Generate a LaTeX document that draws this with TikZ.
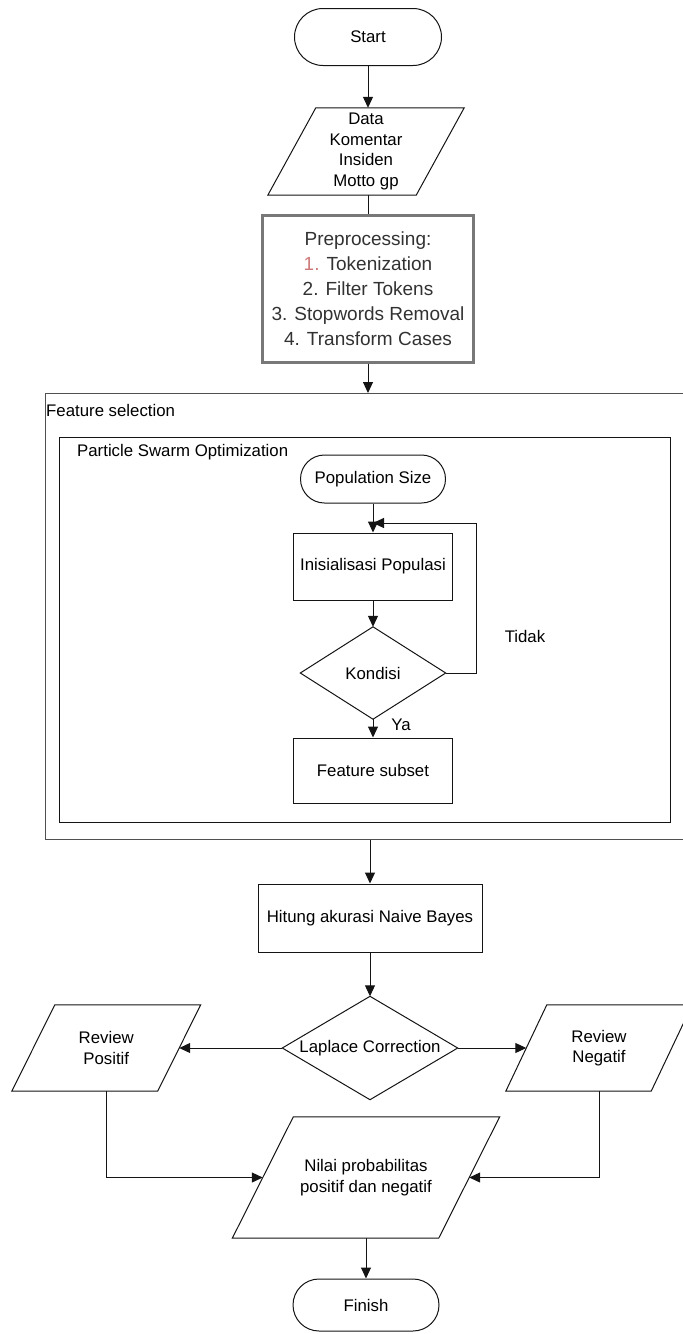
\documentclass[tikz,border=0pt]{standalone}
\usepackage{fontspec}
\setmainfont{Liberation Sans}
\usetikzlibrary{arrows.meta,shapes.misc}
\definecolor{ln}{RGB}{20,20,20}
\definecolor{framegray}{RGB}{80,80,80}
\definecolor{prepborder}{RGB}{120,120,120}
\definecolor{preptext}{RGB}{50,50,50}
\definecolor{pinkish}{RGB}{205,120,120}
\newcommand\paral[2]{\draw[link] ([xshift=#2]#1.north west) -- ([xshift=#2]#1.north east) -- ([xshift=-#2]#1.south east) -- ([xshift=-#2]#1.south west) -- cycle;}
\newcommand\diam[1]{\draw[link] (#1.north) -- (#1.east) -- (#1.south) -- (#1.west) -- cycle;}
\begin{document}
\begin{tikzpicture}[x=1pt,y=-1pt,
  base/.style={font=\fontsize{16.8}{20.5}\selectfont, text=black, inner sep=0pt, align=center},
  term/.style={base, rounded rectangle, draw=ln, line width=1pt},
  boxn/.style={base, rectangle, draw=ln, line width=1pt},
  hidden/.style={base, rectangle, draw=none},
  frame/.style={rectangle, draw=#1, line width=1.2pt, inner sep=0pt},
  link/.style={draw=ln, line width=1pt},
  arr/.style={link, -{Triangle[length=11pt,width=10pt]}},
  prep/.style={rectangle, draw=prepborder, line width=3pt, inner sep=0pt, align=center,
    font=\fontsize{19}{25}\selectfont, text=preptext},
]
\useasboundingbox (0,0) rectangle (683,1334);

% top part
\node[term, minimum width=147pt, minimum height=57pt] (start) at (368,37) {Start};
\node[hidden, minimum width=148pt, minimum height=87pt] (data) at (366,151.5) {Data\\Komentar\\Insiden\\Motto gp};
\paral{data}{24pt}
\node[prep, minimum width=211pt, minimum height=147pt] (prep) at (368,288.5)
  {Preprocessing:\\{\color{pinkish}1.} Tokenization\\2. Filter Tokens\\3. Stopwords Removal\\4. Transform Cases};

% frames
\node[frame=framegray, minimum width=648pt, minimum height=446pt, anchor=north west] (fs) at (45,393) {};
\node[base, anchor=west] (fslbl) at (46,410) {Feature selection};
\node[frame=ln, minimum width=611pt, minimum height=385pt, anchor=north west] (pso) at (59,437) {};
\node[base, anchor=west] (psolbl) at (77,452) {Particle Swarm Optimization};

% PSO content
\node[term, minimum width=145pt, minimum height=48pt] (pop) at (373,479) {Population Size};
\node[boxn, minimum width=159pt, minimum height=67pt] (init) at (373,566.5) {Inisialisasi Populasi};
\node[hidden, minimum width=145pt, minimum height=92pt] (kond) at (373,673) {Kondisi};
\diam{kond}
\node[boxn, minimum width=159pt, minimum height=65pt] (fsub) at (373,770.5) {Feature subset};
\coordinate (loopin) at (373,523);
\coordinate (loopr) at (476,523);
\node[base] (tidak) at (525,636) {Tidak};
\node[base] (ya) at (401,725) {Ya};

% lower part
\node[boxn, minimum width=224pt, minimum height=68pt] (hit) at (370,918) {Hitung akurasi Naive Bayes};
\node[hidden, minimum width=175pt, minimum height=103pt] (lap) at (370,1048) {Laplace Correction};
\diam{lap}
\node[hidden, minimum width=145.5pt, minimum height=86pt] (rp) at (106.25,1048) {Review\\Positif};
\paral{rp}{21.5pt}
\node[hidden, minimum width=145pt, minimum height=86pt] (rn) at (599,1048) {Review\\Negatif};
\paral{rn}{20.5pt}
\node[hidden, minimum width=206pt, minimum height=121pt] (nilai) at (366,1177.5) {Nilai probabilitas\\positif dan negatif};
\paral{nilai}{30.5pt}
\node[term, minimum width=146pt, minimum height=52pt] (fin) at (366,1305) {Finish};

% connectors
\draw[arr] (start.south) -- (start.south |- data.north);
\draw[link] (prep.north |- data.south) -- (prep.north);
\draw[arr] (prep.south) -- (prep.south |- fs.north);
\draw[arr] (pop.south) -- (pop.south |- init.north);
\draw[arr] (init.south) -- (init.south |- kond.north);
\draw[link] (kond.east) -| (loopr);
\draw[arr] (loopr) -- (loopin);
\draw[arr] (kond.south) -- (kond.south |- fsub.north);
\draw[arr] (hit.north |- fs.south) -- (hit.north);
\draw[arr] (hit.south) -- (hit.south |- lap.north);
\draw[arr] (lap.west) -- (rp.east);
\draw[arr] (lap.east) -- (rn.west);
\draw[arr] (rp.south) |- (nilai.west);
\draw[arr] (rn.south) |- (nilai.east);
\draw[arr] (nilai.south -| fin.north) -- (fin.north);
\end{tikzpicture}
\end{document}
